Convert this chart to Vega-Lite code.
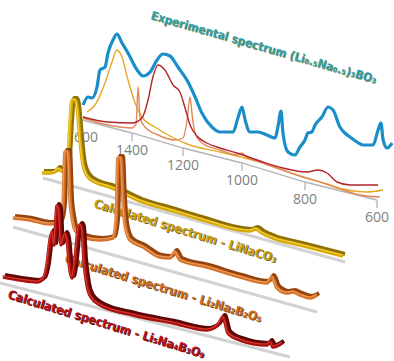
{
"$schema":"https://vega.github.io/schema/vega-lite/v6.json",
"width":394,"height":361,"padding":0,"autosize":{"type":"none"},
"background":"white",
"config":{"view":{"stroke":null}},
"datasets":{
"spectra":[
{"s":"exp","wn":1596,"h":256},{"s":"exp","wn":1576,"h":264},{"s":"exp","wn":1560,"h":263},{"s":"exp","wn":1540,"h":274},{"s":"exp","wn":1528,"h":291},{"s":"exp","wn":1508,"h":294},{"s":"exp","wn":1496,"h":308},{"s":"exp","wn":1476,"h":321},{"s":"exp","wn":1460,"h":327},{"s":"exp","wn":1440,"h":318},{"s":"exp","wn":1416,"h":308},{"s":"exp","wn":1380,"h":291},{"s":"exp","wn":1357,"h":285},{"s":"exp","wn":1329,"h":289},{"s":"exp","wn":1302,"h":301},{"s":"exp","wn":1278,"h":307},{"s":"exp","wn":1251,"h":305},{"s":"exp","wn":1220,"h":294},{"s":"exp","wn":1183,"h":279},{"s":"exp","wn":1159,"h":264},{"s":"exp","wn":1136,"h":248},{"s":"exp","wn":1102,"h":234},{"s":"exp","wn":1075,"h":229},{"s":"exp","wn":1030,"h":229},{"s":"exp","wn":1014,"h":243},{"s":"exp","wn":1000,"h":254},{"s":"exp","wn":990,"h":241},{"s":"exp","wn":975,"h":229},{"s":"exp","wn":949,"h":229},{"s":"exp","wn":921,"h":226},{"s":"exp","wn":895,"h":223},{"s":"exp","wn":886,"h":234},{"s":"exp","wn":876,"h":250},{"s":"exp","wn":870,"h":228},{"s":"exp","wn":854,"h":209},{"s":"exp","wn":832,"h":206},{"s":"exp","wn":816,"h":214},{"s":"exp","wn":800,"h":221},{"s":"exp","wn":792,"h":228},{"s":"exp","wn":781,"h":229},{"s":"exp","wn":772,"h":236},{"s":"exp","wn":753,"h":244},{"s":"exp","wn":736,"h":254},{"s":"exp","wn":722,"h":251},{"s":"exp","wn":703,"h":234},{"s":"exp","wn":689,"h":228},{"s":"exp","wn":675,"h":224},{"s":"exp","wn":656,"h":219},{"s":"exp","wn":639,"h":216},{"s":"exp","wn":611,"h":216},{"s":"exp","wn":597,"h":231},{"s":"exp","wn":589,"h":238},{"s":"exp","wn":583,"h":221},{"s":"exp","wn":572,"h":213},{"s":"exp","wn":558,"h":218},
{"s":"fy","wn":1580,"h":249},{"s":"fy","wn":1548,"h":256},{"s":"fy","wn":1508,"h":278},{"s":"fy","wn":1480,"h":299},{"s":"fy","wn":1460,"h":311},{"s":"fy","wn":1440,"h":304},{"s":"fy","wn":1416,"h":281},{"s":"fy","wn":1388,"h":258},{"s":"fy","wn":1361,"h":244},{"s":"fy","wn":1310,"h":234},{"s":"fy","wn":1251,"h":225},{"s":"fy","wn":1186,"h":217},{"s":"fy","wn":1075,"h":209},{"s":"fy","wn":943,"h":199},{"s":"fy","wn":816,"h":185},{"s":"fy","wn":739,"h":177},{"s":"fy","wn":694,"h":172},{"s":"fy","wn":628,"h":169},{"s":"fy","wn":583,"h":171},
{"s":"fr","wn":1596,"h":244},{"s":"fr","wn":1496,"h":239},{"s":"fr","wn":1400,"h":238},{"s":"fr","wn":1361,"h":243},{"s":"fr","wn":1337,"h":261},{"s":"fr","wn":1318,"h":284},{"s":"fr","wn":1298,"h":296},{"s":"fr","wn":1271,"h":291},{"s":"fr","wn":1239,"h":276},{"s":"fr","wn":1212,"h":269},{"s":"fr","wn":1193,"h":253},{"s":"fr","wn":1176,"h":236},{"s":"fr","wn":1153,"h":225},{"s":"fr","wn":1119,"h":218},{"s":"fr","wn":1075,"h":213},{"s":"fr","wn":1017,"h":208},{"s":"fr","wn":943,"h":200},{"s":"fr","wn":870,"h":193},{"s":"fr","wn":794,"h":189},{"s":"fr","wn":764,"h":191},{"s":"fr","wn":739,"h":188},{"s":"fr","wn":711,"h":179},{"s":"fr","wn":675,"h":176},{"s":"fr","wn":597,"h":176},
{"s":"fo","wn":1596,"h":243},{"s":"fo","wn":1496,"h":236},{"s":"fo","wn":1400,"h":233},{"s":"fo","wn":1384,"h":237},{"s":"fo","wn":1376,"h":274},{"s":"fo","wn":1369,"h":244},{"s":"fo","wn":1349,"h":234},{"s":"fo","wn":1298,"h":226},{"s":"fo","wn":1231,"h":221},{"s":"fo","wn":1200,"h":223},{"s":"fo","wn":1186,"h":241},{"s":"fo","wn":1176,"h":264},{"s":"fo","wn":1169,"h":246},{"s":"fo","wn":1159,"h":228},{"s":"fo","wn":1136,"h":218},{"s":"fo","wn":1075,"h":211},{"s":"fo","wn":1014,"h":206},{"s":"fo","wn":1000,"h":208},{"s":"fo","wn":987,"h":204},{"s":"fo","wn":943,"h":199},{"s":"fo","wn":816,"h":185},{"s":"fo","wn":750,"h":178},{"s":"fo","wn":694,"h":171},{"s":"fo","wn":647,"h":166},{"s":"fo","wn":592,"h":164},
{"s":"g","wn":1624,"h":188},{"s":"g","wn":1592,"h":188},{"s":"g","wn":1572,"h":189},{"s":"g","wn":1560,"h":192},{"s":"g","wn":1544,"h":190},{"s":"g","wn":1532,"h":193},{"s":"g","wn":1520,"h":204},{"s":"g","wn":1512,"h":238},{"s":"g","wn":1504,"h":261},{"s":"g","wn":1492,"h":261},{"s":"g","wn":1484,"h":255},{"s":"g","wn":1472,"h":221},{"s":"g","wn":1460,"h":196},{"s":"g","wn":1440,"h":184},{"s":"g","wn":1404,"h":178},{"s":"g","wn":1353,"h":174},{"s":"g","wn":1235,"h":160},{"s":"g","wn":1129,"h":151},{"s":"g","wn":1027,"h":142},{"s":"g","wn":898,"h":131},{"s":"g","wn":867,"h":130},{"s":"g","wn":848,"h":132},{"s":"g","wn":829,"h":128},{"s":"g","wn":794,"h":123},{"s":"g","wn":719,"h":116},{"s":"g","wn":600,"h":105},
{"s":"gf","wn":1620,"h":183},{"s":"gf","wn":594,"h":99},
{"s":"o","wn":1636,"h":143},{"s":"o","wn":1568,"h":141},{"s":"o","wn":1488,"h":137},{"s":"o","wn":1448,"h":139},{"s":"o","wn":1436,"h":156},{"s":"o","wn":1428,"h":209},{"s":"o","wn":1416,"h":209},{"s":"o","wn":1408,"h":161},{"s":"o","wn":1400,"h":144},{"s":"o","wn":1388,"h":131},{"s":"o","wn":1357,"h":124},{"s":"o","wn":1290,"h":121},{"s":"o","wn":1239,"h":123},{"s":"o","wn":1227,"h":141},{"s":"o","wn":1220,"h":203},{"s":"o","wn":1208,"h":203},{"s":"o","wn":1200,"h":161},{"s":"o","wn":1193,"h":136},{"s":"o","wn":1176,"h":121},{"s":"o","wn":1132,"h":114},{"s":"o","wn":1075,"h":104},{"s":"o","wn":1041,"h":103},{"s":"o","wn":1024,"h":109},{"s":"o","wn":1007,"h":101},{"s":"o","wn":921,"h":94},{"s":"o","wn":816,"h":84},{"s":"o","wn":739,"h":78},{"s":"o","wn":725,"h":84},{"s":"o","wn":711,"h":73},{"s":"o","wn":683,"h":68},{"s":"o","wn":667,"h":69},{"s":"o","wn":647,"h":66},{"s":"o","wn":619,"h":63},{"s":"o","wn":600,"h":66},
{"s":"of","wn":1636,"h":134},{"s":"of","wn":600,"h":49},
{"s":"r","wn":1536,"h":84},{"s":"r","wn":1468,"h":81},{"s":"r","wn":1400,"h":79},{"s":"r","wn":1376,"h":82},{"s":"r","wn":1361,"h":96},{"s":"r","wn":1349,"h":121},{"s":"r","wn":1341,"h":129},{"s":"r","wn":1333,"h":116},{"s":"r","wn":1325,"h":146},{"s":"r","wn":1322,"h":155},{"s":"r","wn":1314,"h":151},{"s":"r","wn":1306,"h":116},{"s":"r","wn":1298,"h":121},{"s":"r","wn":1290,"h":127},{"s":"r","wn":1282,"h":121},{"s":"r","wn":1271,"h":91},{"s":"r","wn":1263,"h":83},{"s":"r","wn":1251,"h":101},{"s":"r","wn":1239,"h":131},{"s":"r","wn":1231,"h":136},{"s":"r","wn":1224,"h":133},{"s":"r","wn":1216,"h":101},{"s":"r","wn":1204,"h":76},{"s":"r","wn":1190,"h":64},{"s":"r","wn":1159,"h":56},{"s":"r","wn":1047,"h":46},{"s":"r","wn":918,"h":38},{"s":"r","wn":810,"h":31},{"s":"r","wn":778,"h":36},{"s":"r","wn":764,"h":44},{"s":"r","wn":750,"h":28},{"s":"r","wn":717,"h":21},{"s":"r","wn":642,"h":16},{"s":"r","wn":633,"h":19},{"s":"r","wn":625,"h":14},{"s":"r","wn":600,"h":18},
{"s":"rf","wn":1548,"h":78},{"s":"rf","wn":578,"h":4}
],
"axis":[{"wn":1600,"h":241,"label":"1600"},{"wn":1400,"h":228,"label":"1400"},{"wn":1200,"h":213,"label":"1200"},{"wn":1000,"h":198,"label":"1000"},{"wn":800,"h":179,"label":"800"},{"wn":600,"h":161,"label":"600"}],
"yticks":[{"h":336},{"h":290}],
"labels":[{"n":"g","wn":1556,"h":154,"t":"Calculated spectrum - LiNaCO₃"},{"n":"o","wn":1672,"h":99,"t":"Calculated spectrum - Li₂Na₂B₂O₅"},{"n":"r","wn":1900,"h":63,"t":"Calculated spectrum - Li₅Na₄B₃O₉"},{"n":"e","wn":1329,"h":342,"t":"Experimental spectrum (Li₀.₅Na₀.₅)₃BO₃"}]
},
"encoding":{
"x":{"field":"wn","type":"quantitative","axis":null,"scale":{"domain":[1600,1400,1200,1000,800,600],"range":[82,132,183,242,305,377],"nice":false,"zero":false}},
"y":{"field":"h","type":"quantitative","axis":null,"scale":{"domain":[0,361],"nice":false,"zero":false}}
},
"layer":[
{"data":{"name":"axis"},"mark":{"type":"line","stroke":"#b4b4b4","strokeWidth":1.3},"encoding":{}},
{"data":{"name":"axis"},"mark":{"type":"rule","stroke":"#b4b4b4","strokeWidth":1.3,"y2Offset":8},"encoding":{"y2":{"field":"h"}}},
{"data":{"name":"axis"},"mark":{"type":"text","font":"Open Sans","fontSize":14,"fill":"#7f7f7f","baseline":"middle","align":"center","yOffset":18},"encoding":{"text":{"field":"label"}}},
{"data":{"values":[{}]},"mark":{"type":"rule","stroke":"#b4b4b4","strokeWidth":1.3},"encoding":{"x":{"datum":1600},"y":{"datum":241},"y2":{"datum":358}}},
{"data":{"name":"yticks"},"mark":{"type":"rule","stroke":"#b4b4b4","strokeWidth":1.3},"encoding":{"x":{"datum":1600},"x2":{"datum":1628}}},
{"data":{"name":"spectra"},"transform":[{"filter":{"field":"s","equal":"fy"}}],"mark":{"type":"line","stroke":"#e5a923","strokeWidth":1.4,"interpolate":"monotone"},"encoding":{}},
{"data":{"name":"spectra"},"transform":[{"filter":{"field":"s","equal":"fo"}}],"mark":{"type":"line","stroke":"#e08a5a","strokeWidth":1.4,"interpolate":"monotone"},"encoding":{}},
{"data":{"name":"spectra"},"transform":[{"filter":{"field":"s","equal":"fr"}}],"mark":{"type":"line","stroke":"#b3252a","strokeWidth":1.4,"interpolate":"monotone"},"encoding":{}},
{"data":{"name":"spectra"},"transform":[{"filter":{"field":"s","equal":"exp"}}],"mark":{"type":"line","stroke":"#1a8ec9","strokeWidth":3.2,"interpolate":"monotone","strokeJoin":"round"},"encoding":{}},
{"data":{"name":"labels"},"transform":[{"filter":{"field":"n","equal":"e"}}],"mark":{"type":"text","align":"left","baseline":"alphabetic","angle":16,"font":"DejaVu Sans Condensed, Liberation Sans, sans-serif","fontWeight":"bold","fontSize":11.9,"fill":"#a39a4a","xOffset":0.8,"yOffset":0.8},"encoding":{"text":{"field":"t"}}},
{"data":{"name":"labels"},"transform":[{"filter":{"field":"n","equal":"e"}}],"mark":{"type":"text","align":"left","baseline":"alphabetic","angle":16,"font":"DejaVu Sans Condensed, Liberation Sans, sans-serif","fontWeight":"bold","fontSize":11.9,"fill":"#2e9fb3"},"encoding":{"text":{"field":"t"}}},
{"data":{"name":"spectra"},"transform":[{"filter":{"field":"s","equal":"gf"}}],"mark":{"type":"line","stroke":"#d2d2d2","strokeWidth":3,"xOffset":-34},"encoding":{}},
{"data":{"name":"spectra"},"transform":[{"filter":{"field":"s","equal":"g"}}],"mark":{"type":"line","stroke":"#8f7000","strokeWidth":4,"interpolate":"monotone","xOffset":-32,"yOffset":-2},"encoding":{}},
{"data":{"name":"spectra"},"transform":[{"filter":{"field":"s","equal":"g"}}],"mark":{"type":"line","stroke":"#d6a800","strokeWidth":3.5,"interpolate":"monotone","xOffset":-34},"encoding":{}},
{"data":{"name":"spectra"},"transform":[{"filter":{"field":"s","equal":"g"}}],"mark":{"type":"line","stroke":"#f2d04a","strokeWidth":1.2,"interpolate":"monotone","xOffset":-34.5,"yOffset":-1},"encoding":{}},
{"data":{"name":"labels"},"transform":[{"filter":{"field":"n","equal":"g"}}],"mark":{"type":"text","align":"left","baseline":"alphabetic","angle":17,"font":"DejaVu Sans Condensed, Liberation Sans, sans-serif","fontWeight":"bold","fontSize":12.3,"fill":"#6e5a10","xOffset":0.8,"yOffset":0.8},"encoding":{"text":{"field":"t"}}},
{"data":{"name":"labels"},"transform":[{"filter":{"field":"n","equal":"g"}}],"mark":{"type":"text","align":"left","baseline":"alphabetic","angle":17,"font":"DejaVu Sans Condensed, Liberation Sans, sans-serif","fontWeight":"bold","fontSize":12.3,"fill":"#c9a21c"},"encoding":{"text":{"field":"t"}}},
{"data":{"name":"spectra"},"transform":[{"filter":{"field":"s","equal":"of"}}],"mark":{"type":"line","stroke":"#d2d2d2","strokeWidth":3,"xOffset":-60},"encoding":{}},
{"data":{"name":"spectra"},"transform":[{"filter":{"field":"s","equal":"o"}}],"mark":{"type":"line","stroke":"#94440f","strokeWidth":4,"interpolate":"monotone","xOffset":-58,"yOffset":-2},"encoding":{}},
{"data":{"name":"spectra"},"transform":[{"filter":{"field":"s","equal":"o"}}],"mark":{"type":"line","stroke":"#d4722a","strokeWidth":3.5,"interpolate":"monotone","xOffset":-60},"encoding":{}},
{"data":{"name":"spectra"},"transform":[{"filter":{"field":"s","equal":"o"}}],"mark":{"type":"line","stroke":"#f09a5a","strokeWidth":1.2,"interpolate":"monotone","xOffset":-60.5,"yOffset":-1},"encoding":{}},
{"data":{"name":"labels"},"transform":[{"filter":{"field":"n","equal":"o"}}],"mark":{"type":"text","align":"left","baseline":"alphabetic","angle":17,"font":"DejaVu Sans Condensed, Liberation Sans, sans-serif","fontWeight":"bold","fontSize":12.3,"fill":"#6e3a10","xOffset":0.8,"yOffset":0.8},"encoding":{"text":{"field":"t"}}},
{"data":{"name":"labels"},"transform":[{"filter":{"field":"n","equal":"o"}}],"mark":{"type":"text","align":"left","baseline":"alphabetic","angle":17,"font":"DejaVu Sans Condensed, Liberation Sans, sans-serif","fontWeight":"bold","fontSize":12.3,"fill":"#c8702a"},"encoding":{"text":{"field":"t"}}},
{"data":{"name":"spectra"},"transform":[{"filter":{"field":"s","equal":"rf"}}],"mark":{"type":"line","stroke":"#d2d2d2","strokeWidth":3,"xOffset":-95},"encoding":{}},
{"data":{"name":"spectra"},"transform":[{"filter":{"field":"s","equal":"r"}}],"mark":{"type":"line","stroke":"#5e0505","strokeWidth":4,"interpolate":"monotone","xOffset":-93,"yOffset":-2},"encoding":{}},
{"data":{"name":"spectra"},"transform":[{"filter":{"field":"s","equal":"r"}}],"mark":{"type":"line","stroke":"#a8100e","strokeWidth":3.5,"interpolate":"monotone","xOffset":-95},"encoding":{}},
{"data":{"name":"spectra"},"transform":[{"filter":{"field":"s","equal":"r"}}],"mark":{"type":"line","stroke":"#d23a32","strokeWidth":1.2,"interpolate":"monotone","xOffset":-95.5,"yOffset":-1},"encoding":{}},
{"data":{"name":"labels"},"transform":[{"filter":{"field":"n","equal":"r"}}],"mark":{"type":"text","align":"left","baseline":"alphabetic","angle":17,"font":"DejaVu Sans Condensed, Liberation Sans, sans-serif","fontWeight":"bold","fontSize":12.3,"fill":"#5a0808","xOffset":0.8,"yOffset":0.8},"encoding":{"text":{"field":"t"}}},
{"data":{"name":"labels"},"transform":[{"filter":{"field":"n","equal":"r"}}],"mark":{"type":"text","align":"left","baseline":"alphabetic","angle":17,"font":"DejaVu Sans Condensed, Liberation Sans, sans-serif","fontWeight":"bold","fontSize":12.3,"fill":"#b3161c"},"encoding":{"text":{"field":"t"}}}
]
}
